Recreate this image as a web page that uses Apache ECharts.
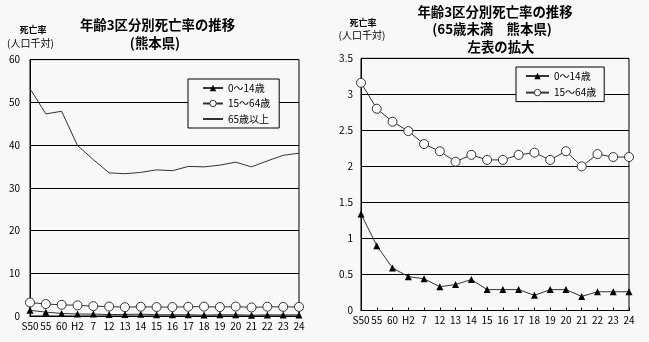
<!DOCTYPE html>
<html><head><meta charset="utf-8">
<script src="https://cdn.jsdelivr.net/npm/echarts@6/dist/echarts.min.js"></script>
<style>html,body{margin:0;padding:0;background:#f8f8f8}#c{width:649px;height:342px}</style>
</head><body><div id="c"></div>
<script>
const categories = ['S50','55','60','H2','7','12','13','14','15','16','17','18','19','20','21','22','23','24'];
const age0_14 = [1.34,0.90,0.59,0.47,0.44,0.33,0.36,0.43,0.29,0.29,0.29,0.21,0.29,0.29,0.195,0.26,0.26,0.26];
const age15_64 = [3.16,2.80,2.62,2.49,2.31,2.21,2.065,2.16,2.09,2.09,2.16,2.19,2.09,2.21,2.00,2.17,2.13,2.13];
const age65plus = [53.2,47.3,47.9,39.9,36.6,33.5,33.3,33.6,34.2,34.0,35.0,34.9,35.3,36.0,34.9,36.3,37.6,38.1];
const name0 = '0～14歳', name1 = '15～64歳', name2 = '65歳以上';

const FF = "'Noto Sans CJK JP', sans-serif";
const chart = echarts.init(document.getElementById('c'));
const lineC = '#333';
function xAxis(gi){
  return {type:'category', gridIndex:gi, data:categories, boundaryGap:false,
    axisLine:{lineStyle:{color:'#000',width:1}},
    axisTick:{inside:true,length:3,lineStyle:{color:'#000'}},
    axisLabel:{interval:0,color:'#000',fontSize:10,fontFamily:FF,margin:5}};
}
function yAxis(gi,max,interval,margin){
  return {type:'value', gridIndex:gi, min:0, max:max, interval:interval,
    axisLine:{show:true,lineStyle:{color:'#000'}},
    axisTick:{show:false},
    splitLine:{lineStyle:{color:'#000',width:1}},
    axisLabel:{color:'#000',fontSize:10,fontFamily:FF,margin:margin}};
}
const tri = (xi,yi,data)=>({name:name0,type:'line',xAxisIndex:xi,yAxisIndex:yi,data:data,
  symbol:'triangle',symbolSize:7,lineStyle:{color:lineC,width:1},itemStyle:{color:'#000'},animation:false});
const circ = (xi,yi,data)=>({name:name1,type:'line',xAxisIndex:xi,yAxisIndex:yi,data:data,
  symbol:'circle',symbolSize:9,lineStyle:{color:lineC,width:1},itemStyle:{color:'#fff',borderColor:lineC,borderWidth:1},animation:false});
function txt(x,y,t,size,bold){
  return {type:'text',x:x,y:y,style:{text:t,fill:'#000',font:(bold?'bold ':'')+size+'px '+FF,textAlign:'center',textVerticalAlign:'middle'}};
}
const leg0 = {name:name0,itemStyle:{color:'#000',borderWidth:0}};
const leg1 = {name:name1,itemStyle:{color:'#fff',borderColor:lineC,borderWidth:1}};
chart.setOption({
  backgroundColor:'#f8f8f8',
  animation:false,
  grid:[
    {left:30,right:350,top:59.6,bottom:26,show:true,borderColor:'#000',borderWidth:1,backgroundColor:'transparent'},
    {left:361,right:20,top:58.3,bottom:31.5,show:true,borderColor:'#000',borderWidth:1,backgroundColor:'transparent'}
  ],
  xAxis:[xAxis(0),xAxis(1)],
  yAxis:[yAxis(0,60,10,10),yAxis(1,3.5,0.5,8)],
  legend:[
    {data:[leg0,leg1,{name:name2,itemStyle:{opacity:0,borderWidth:0}}],orient:'vertical',left:188,top:79,itemWidth:20,itemHeight:8,itemGap:3.5,
     padding:[3,9,3,14],borderColor:'#000',borderWidth:1,backgroundColor:'#f8f8f8',
     textStyle:{fontSize:10,fontFamily:FF,color:'#000',lineHeight:12},selectedMode:false},
    {data:[leg0,leg1],orient:'vertical',left:516,top:67,itemWidth:23,itemHeight:8,itemGap:4.6,
     padding:[3,8,3,9],borderColor:'#000',borderWidth:1,backgroundColor:'#f8f8f8',
     textStyle:{fontSize:10,fontFamily:FF,color:'#000',lineHeight:12},selectedMode:false}
  ],
  series:[
    tri(0,0,age0_14),
    circ(0,0,age15_64),
    {name:name2,type:'line',xAxisIndex:0,yAxisIndex:0,data:age65plus,symbol:'none',lineStyle:{color:lineC,width:1},itemStyle:{color:lineC},animation:false},
    tri(1,1,age0_14),
    circ(1,1,age15_64)
  ],
  graphic:[
    txt(157.5,25,'年齢3区分別死亡率の推移',13.4,true),
    txt(155,43,'(熊本県)',13.4,true),
    txt(33,30,'死亡率',9,true),
    txt(30.5,43,'(人口千対)',10,false),
    txt(495,12,'年齢3区分別死亡率の推移',13.4,true),
    txt(492,29,'(65歳未満　熊本県)',13.4,true),
    txt(501,47,'左表の拡大',13.4,true),
    txt(363,23,'死亡率',9,true),
    txt(362,35,'(人口千対)',10,false)
  ]
});
</script></body></html>
